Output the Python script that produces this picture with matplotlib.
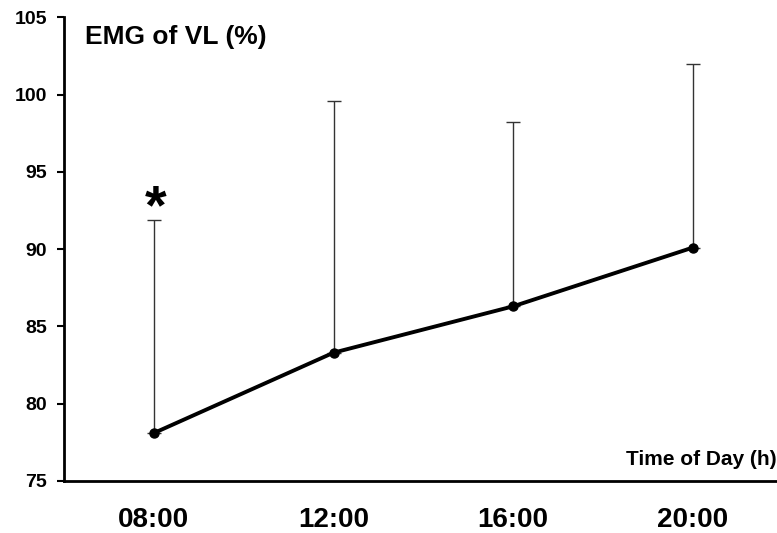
import matplotlib
matplotlib.use("Agg")
import matplotlib.pyplot as plt

plt.rcParams['font.family'] = ['Liberation Sans', 'DejaVu Sans']

# EMG of vastus lateralis across the day (mean and upper SD)
times = ["08:00", "12:00", "16:00", "20:00"]
emg_mean = [78.1, 83.3, 86.3, 90.1]
emg_sd = [13.8, 16.3, 11.9, 11.9]
significant = [True, False, False, False]

fig = plt.figure(figsize=(7.77, 5.33), dpi=100)
ax = fig.add_axes([0.0824, 0.0976, 0.918, 0.870])

x = list(range(len(times)))

# upper-only error bars
ax.errorbar(x, emg_mean, yerr=[[0] * len(emg_sd), emg_sd], fmt='none',
            ecolor='#333333', elinewidth=1.0, capsize=5, capthick=1.0, zorder=2)
ax.plot(x, emg_mean, color='black', lw=2.8, marker='o', markersize=6.5,
        markerfacecolor='black', zorder=3)

# significance marker above the error bar
for xi, m, s, sig in zip(x, emg_mean, emg_sd, significant):
    if sig:
        ax.text(xi + 0.01, m + s - 0.25, "*", ha='center', va='baseline',
                fontsize=40, fontweight='bold')

ax.set_xlim(-0.5, 3.47)
ax.set_ylim(75, 105)
ax.set_yticks([75, 80, 85, 90, 95, 100, 105])
ax.set_xticks(x)
ax.set_xticklabels(times)

for side in ('top', 'right'):
    ax.spines[side].set_visible(False)
for side in ('left', 'bottom'):
    ax.spines[side].set_linewidth(2.0)

ax.tick_params(axis='y', direction='out', length=5, width=1.5, pad=7,
               labelsize=14)
ax.tick_params(axis='x', length=0, pad=18.5, labelsize=20)
for lab in ax.get_yticklabels() + ax.get_xticklabels():
    lab.set_fontweight('bold')

ax.text(0.03, 0.983, "EMG of VL (%)", transform=ax.transAxes, ha='left',
        va='top', fontsize=19, fontweight='bold')
ax.text(0.999, 0.025, "Time of Day (h)", transform=ax.transAxes, ha='right',
        va='bottom', fontsize=15, fontweight='bold')

fig.savefig("out.png", dpi=100)
